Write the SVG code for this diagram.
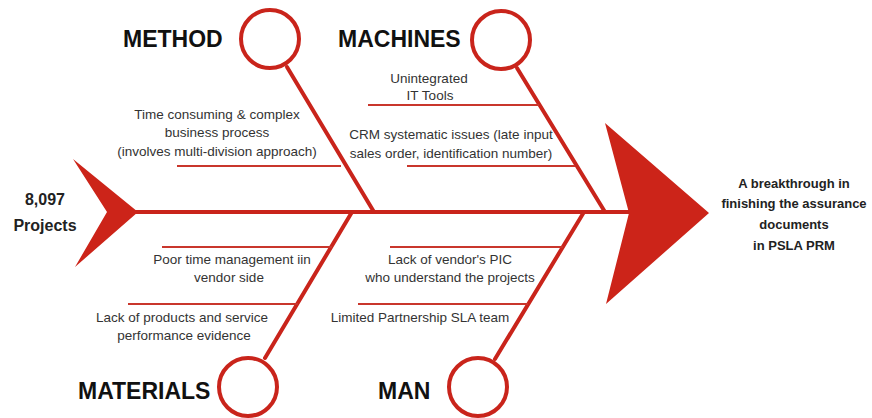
<svg xmlns="http://www.w3.org/2000/svg" width="872" height="418" viewBox="0 0 872 418">
<style>
.bone{stroke:#c9241b;stroke-width:4;fill:none;stroke-linecap:round}
.sub{stroke:#c9362c;stroke-width:2;fill:none}
.head{fill:#cc2419}
.ring{fill:#fff;stroke:#c9241b;stroke-width:4}
.cat{font-family:"Liberation Sans",Arial,sans-serif;font-weight:bold;font-size:23px;fill:#111}
.cause{font-family:"Liberation Sans",Arial,sans-serif;font-size:13.5px;fill:#333;text-anchor:middle}
.end{font-family:"Liberation Sans",Arial,sans-serif;font-weight:bold;font-size:16px;fill:#222;text-anchor:middle}
.eff{font-family:"Liberation Sans",Arial,sans-serif;font-weight:bold;font-size:13px;fill:#222;text-anchor:middle}
</style>
<rect width="872" height="418" fill="#fff"/>
<g id="connectors">
<line class="bone" x1="130" y1="212" x2="632" y2="212"/>
<line class="bone" x1="287" y1="67" x2="374" y2="212"/>
<line class="bone" x1="517" y1="68" x2="605" y2="212"/>
<line class="bone" x1="265" y1="358" x2="352" y2="212"/>
<line class="bone" x1="495" y1="359" x2="584" y2="212"/>
<line class="sub" x1="177" y1="166" x2="341" y2="166"/>
<line class="sub" x1="368" y1="105" x2="539" y2="105"/>
<line class="sub" x1="407" y1="166" x2="575" y2="166"/>
<line class="sub" x1="162" y1="247" x2="332" y2="247"/>
<line class="sub" x1="128" y1="304" x2="298" y2="304"/>
<line class="sub" x1="390" y1="247" x2="563" y2="247"/>
<line class="sub" x1="358" y1="304" x2="528" y2="304"/>
</g>
<g id="tail">
<polygon class="head" points="73,159 138,212 75,267 107,212"/>
<text class="end" x="45" y="205">8,097</text>
<text class="end" x="45" y="231">Projects</text>
</g>
<g id="head">
<polygon class="head" points="605,123 709,213 606,304 629,213"/>
<text class="eff" x="794" y="188">A breakthrough in</text>
<text class="eff" x="794" y="208">finishing the assurance</text>
<text class="eff" x="794" y="229">documents</text>
<text class="eff" x="794" y="250">in PSLA PRM</text>
</g>
<g id="method">
<circle class="ring" cx="270" cy="39" r="29"/>
<text class="cat" x="123" y="47">METHOD</text>
<text class="cause" x="217" y="119">Time consuming &amp; complex</text>
<text class="cause" x="217" y="137">business process</text>
<text class="cause" x="217" y="156">(involves multi-division approach)</text>
</g>
<g id="machines">
<circle class="ring" cx="501" cy="40" r="29"/>
<text class="cat" x="338" y="47">MACHINES</text>
<text class="cause" x="429" y="83">Unintegrated</text>
<text class="cause" x="430" y="100">IT Tools</text>
<text class="cause" x="451" y="139">CRM systematic issues (late input</text>
<text class="cause" x="451" y="158">sales order, identification number)</text>
</g>
<g id="materials">
<circle class="ring" cx="248" cy="387" r="29"/>
<text class="cat" x="78" y="399">MATERIALS</text>
<text class="cause" x="232" y="264">Poor time management iin</text>
<text class="cause" x="229" y="282">vendor side</text>
<text class="cause" x="182" y="322">Lack of products and service</text>
<text class="cause" x="184" y="340">performance evidence</text>
</g>
<g id="man">
<circle class="ring" cx="478" cy="387" r="29"/>
<text class="cat" x="378" y="399">MAN</text>
<text class="cause" x="450" y="264">Lack of vendor's PIC</text>
<text class="cause" x="450" y="282">who understand the projects</text>
<text class="cause" x="420" y="322">Limited Partnership SLA team</text>
</g>
</svg>
